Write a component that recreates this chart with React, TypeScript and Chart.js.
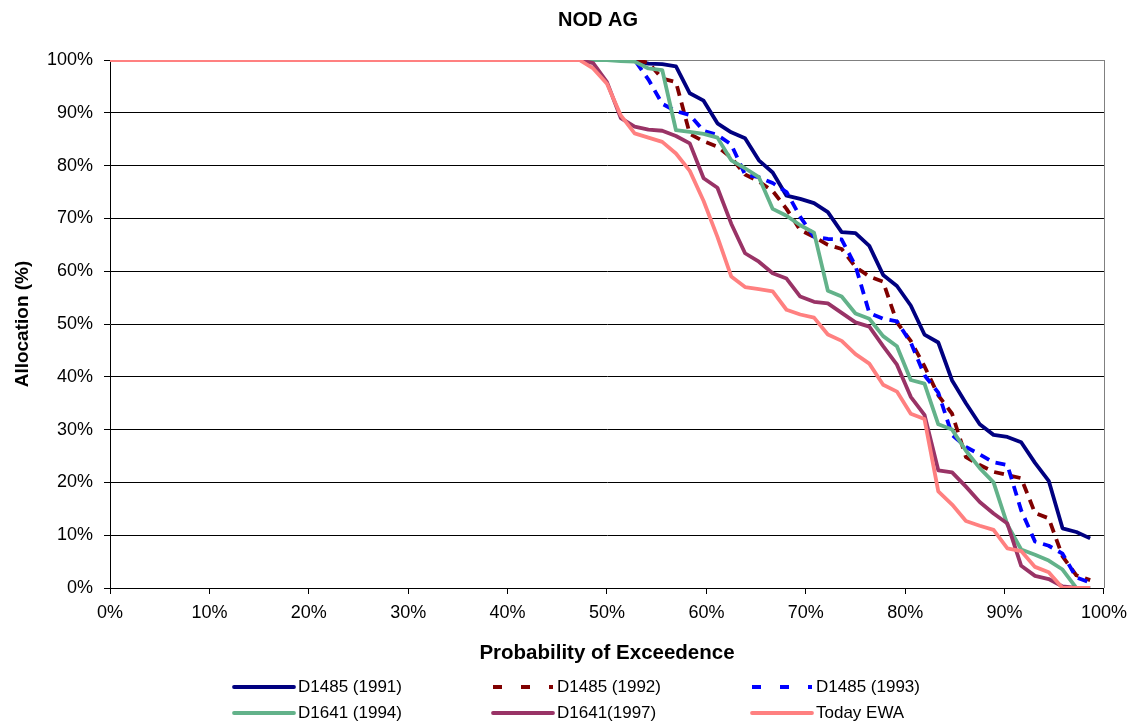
import React, { useEffect, useRef } from 'react';
import { Chart, registerables } from 'chart.js';

Chart.register(...registerables);

// Probability of exceedence (%) for each of the 72 ranked years
const exceedence = [
  0, 1.39, 2.78, 4.17, 5.56, 6.94, 8.33, 9.72, 11.11, 12.5, 13.89, 15.28, 16.67, 18.06, 19.44, 20.83, 22.22, 23.61,
  25, 26.39, 27.78, 29.17, 30.56, 31.94, 33.33, 34.72, 36.11, 37.5, 38.89, 40.28, 41.67, 43.06, 44.44, 45.83,
  47.22, 48.61, 50, 51.39, 52.78, 54.17, 55.56, 56.94, 58.33, 59.72, 61.11, 62.5, 63.89, 65.28, 66.67, 68.06,
  69.44, 70.83, 72.22, 73.61, 75, 76.39, 77.78, 79.17, 80.56, 81.94, 83.33, 84.72, 86.11, 87.5, 88.89, 90.28,
  91.67, 93.06, 94.44, 95.83, 97.22, 98.61,
];

const d1485_1991 = [
  100, 100, 100, 100, 100, 100, 100, 100, 100, 100, 100, 100, 100, 100, 100, 100, 100, 100,
  100, 100, 100, 100, 100, 100, 100, 100, 100, 100, 100, 100, 100, 100, 100, 100,
  100, 100, 100, 100, 99.8, 99.3, 99.2, 98.8, 93.7, 92.3, 88, 86.3, 85.2, 81, 78.7, 74.3,
  73.7, 72.9, 71.2, 67.4, 67.2, 64.8, 59.3, 57.2, 53.5, 48, 46.5, 39.3, 35, 31, 29, 28.6,
  27.6, 23.7, 20.3, 11.3, 10.6, 9.4,
];

const d1485_1992 = [
  100, 100, 100, 100, 100, 100, 100, 100, 100, 100, 100, 100, 100, 100, 100, 100, 100, 100,
  100, 100, 100, 100, 100, 100, 100, 100, 100, 100, 100, 100, 100, 100, 100, 100,
  100, 100, 100, 100, 100, 99.5, 96.5, 95.8, 86, 84.6, 83.6, 81.5, 78.3, 77, 75.2, 71.8,
  67.8, 66.5, 65, 64.2, 60.8, 59, 58, 50.3, 46.8, 42, 36.5, 33, 24.8, 23.3, 22, 21.4,
  20.8, 14.2, 13.2, 6, 2.4, 1.5,
];

const d1485_1993 = [
  100, 100, 100, 100, 100, 100, 100, 100, 100, 100, 100, 100, 100, 100, 100, 100, 100, 100,
  100, 100, 100, 100, 100, 100, 100, 100, 100, 100, 100, 100, 100, 100, 100, 100,
  100, 100, 100, 100, 100, 96.3, 91.7, 90.3, 89.6, 86.6, 85.8, 84, 78.3, 77.8, 76.7, 75,
  70.3, 66.5, 66.1, 66, 61, 52.1, 51, 50.5, 46.5, 40.3, 37, 29, 26.7, 25.3, 23.8, 23.3,
  14.7, 8.8, 8, 6.5, 2, 1,
];

const d1641_1994 = [
  100, 100, 100, 100, 100, 100, 100, 100, 100, 100, 100, 100, 100, 100, 100, 100, 100, 100,
  100, 100, 100, 100, 100, 100, 100, 100, 100, 100, 100, 100, 100, 100, 100, 100,
  100, 100, 100, 99.8, 99.7, 98.4, 98.1, 86.7, 86.4, 86, 85.3, 81, 79.5, 77.8, 71.8, 70.5,
  68.7, 67.3, 56.3, 55.2, 52, 51, 47.7, 45.8, 39.4, 38.7, 31, 30, 26, 22.7, 20, 12,
  7.3, 6.3, 5.2, 3.5, 0, 0,
];

const d1641_1997 = [
  100, 100, 100, 100, 100, 100, 100, 100, 100, 100, 100, 100, 100, 100, 100, 100, 100, 100,
  100, 100, 100, 100, 100, 100, 100, 100, 100, 100, 100, 100, 100, 100, 100, 100,
  100, 99.4, 95.8, 89, 87.4, 86.8, 86.6, 85.6, 84.2, 77.6, 75.8, 69, 63.4, 61.8, 59.6, 58.6,
  55.2, 54.2, 53.9, 52.1, 50.3, 49.5, 45.8, 42.3, 36.2, 32.8, 22.3, 21.9, 19.2, 16.3, 14.1, 12.2,
  4.2, 2.3, 1.7, 0.3, 0, 0,
];

const todayEWA = [
  100, 100, 100, 100, 100, 100, 100, 100, 100, 100, 100, 100, 100, 100, 100, 100, 100, 100,
  100, 100, 100, 100, 100, 100, 100, 100, 100, 100, 100, 100, 100, 100, 100, 100,
  100, 98.4, 95.5, 89.5, 86.1, 85.3, 84.5, 82.3, 79, 73.3, 66.5, 59, 57, 56.6, 56.2, 52.7,
  51.8, 51.2, 48, 46.8, 44.3, 42.5, 38.5, 37.2, 33, 32, 18.3, 15.8, 12.7, 11.8, 11, 7.5,
  7, 4, 3, 0, 0, 0,
];

const seriesLabels = ['D1485 (1991)', 'D1485 (1992)', 'D1485 (1993)', 'D1641 (1994)', 'D1641(1997)', 'Today EWA'];
const seriesValues = [d1485_1991, d1485_1992, d1485_1993, d1641_1994, d1641_1997, todayEWA];
const seriesColors = ['#000080', '#800000', '#0000FF', '#63B28A', '#993366', '#FF8080'];
const seriesDashed = [false, true, true, false, false, false];

const chartTitle = 'NOD AG';
const xTitle = 'Probability of Exceedence';
const yTitle = 'Allocation (%)';

const FONT = "'Liberation Sans', Arial, sans-serif";
const LINE_W = 3.8;
const DASH = [10, 7];
const LEGEND_DASH = [9, 19];
const LEGEND_COL_X = [234, 493, 752];
const LEGEND_ROW_Y = [687, 713];
const LEGEND_LINE_LEN = 60;

const decorPlugin = {
  id: 'nodDecor',
  beforeDatasetsDraw(chart: any) {
    const { ctx, chartArea } = chart;
    ctx.save();
    ctx.strokeStyle = '#808080';
    ctx.lineWidth = 1;
    ctx.beginPath();
    const rx = Math.round(chartArea.right) + 0.5;
    ctx.moveTo(rx, chartArea.top);
    ctx.lineTo(rx, chartArea.bottom);
    ctx.stroke();
    ctx.restore();
  },
  afterDraw(chart: any) {
    const { ctx } = chart;
    ctx.save();
    ctx.fillStyle = '#000';
    ctx.font = `bold 20px ${FONT}`;
    ctx.textAlign = 'center';
    ctx.textBaseline = 'middle';
    ctx.fillText(chartTitle, 598, 20);

    chart.data.datasets.forEach((ds: any, i: number) => {
      const x0 = LEGEND_COL_X[i % 3];
      const y = LEGEND_ROW_Y[Math.floor(i / 3)];
      const dashed = ds.borderDash && ds.borderDash.length > 0;
      ctx.beginPath();
      ctx.setLineDash(dashed ? LEGEND_DASH : []);
      ctx.lineWidth = ds.borderWidth;
      ctx.strokeStyle = ds.borderColor;
      ctx.lineCap = dashed ? 'butt' : 'round';
      ctx.moveTo(x0, y);
      ctx.lineTo(x0 + LEGEND_LINE_LEN, y);
      ctx.stroke();
      ctx.setLineDash([]);
      ctx.fillStyle = '#000';
      ctx.font = `17px ${FONT}`;
      ctx.textAlign = 'left';
      ctx.textBaseline = 'middle';
      ctx.fillText(ds.label, x0 + LEGEND_LINE_LEN + 4, y);
    });
    ctx.restore();
  },
};

export default function App() {
  const canvasRef = useRef<HTMLCanvasElement | null>(null);

  useEffect(() => {
    if (!canvasRef.current) return;
    const datasets = seriesLabels.map((label, i) => ({
      label,
      data: exceedence.map((x, j) => ({ x, y: seriesValues[i][j] })),
      borderColor: seriesColors[i],
      backgroundColor: seriesColors[i],
      borderWidth: LINE_W,
      borderDash: seriesDashed[i] ? DASH : [],
      borderJoinStyle: 'round' as const,
      borderCapStyle: 'butt' as const,
      pointRadius: 0,
      pointHoverRadius: 0,
      tension: 0,
      fill: false,
      order: seriesLabels.length - 1 - i,
    }));

    const chart = new Chart(canvasRef.current, {
      type: 'line',
      data: { datasets },
      options: {
        animation: false,
        responsive: false,
        devicePixelRatio: 1,
        events: [],
        layout: { padding: { left: 0, right: 29.5, top: 60, bottom: 59 } },
        plugins: {
          legend: { display: false },
          title: { display: false },
          tooltip: { enabled: false },
        },
        scales: {
          x: {
            type: 'linear',
            min: 0,
            max: 100,
            afterFit: (scale: any) => {
              scale.height = 81;
            },
            ticks: {
              stepSize: 10,
              padding: 8,
              color: '#000',
              font: { family: FONT, size: 18 },
              callback: (v: any) => `${v}%`,
              maxRotation: 0,
            },
            grid: {
              drawOnChartArea: false,
              drawTicks: true,
              tickLength: 6,
              color: '#000',
              tickColor: '#000',
            },
            border: { display: true, color: '#000', width: 1 },
            title: {
              display: true,
              text: xTitle,
              color: '#000',
              font: { family: FONT, size: 20.5, weight: 'bold' },
              padding: { top: 0, bottom: 3 },
            },
          },
          y: {
            type: 'linear',
            min: 0,
            max: 100,
            afterFit: (scale: any) => {
              scale.width = 110;
            },
            ticks: {
              stepSize: 10,
              padding: 11,
              color: '#000',
              font: { family: FONT, size: 18 },
              callback: (v: any) => `${v}%`,
            },
            grid: {
              drawTicks: true,
              tickLength: 6,
              color: (ctx: any) => (ctx.tick && ctx.tick.value === 100 ? '#808080' : '#000'),
              tickColor: '#000',
              lineWidth: 1,
            },
            border: { display: true, color: '#000', width: 1 },
            title: {
              display: true,
              text: yTitle,
              color: '#000',
              font: { family: FONT, size: 19, weight: 'bold' },
              padding: { top: 11, bottom: 0 },
            },
          },
        },
      },
      plugins: [decorPlugin],
    } as any);

    return () => chart.destroy();
  }, []);

  return (
    <div style={{ position: 'absolute', left: 0, top: 0, width: 1135, height: 728, background: '#fff' }}>
      <canvas ref={canvasRef} width={1135} height={728} style={{ display: 'block' }} />
    </div>
  );
}
